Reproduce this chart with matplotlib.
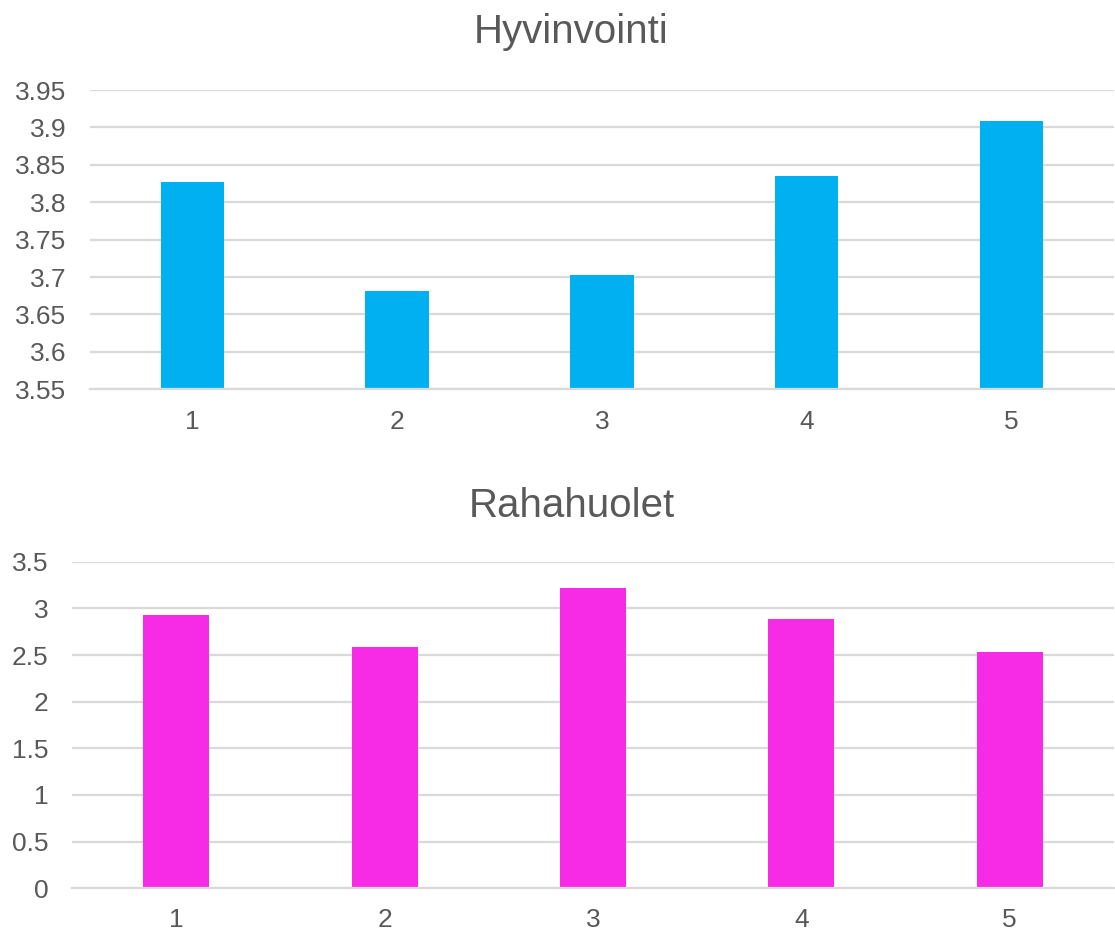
import matplotlib.pyplot as plt
import numpy as np

# Keskiarvot vastausryhmittäin
ryhmat = ["1", "2", "3", "4", "5"]
hyvinvointi = [3.827, 3.682, 3.703, 3.835, 3.908]
rahahuolet = [2.93, 2.583, 3.215, 2.883, 2.536]

plt.rcParams["font.family"] = ["Liberation Sans", "DejaVu Sans"]
teksti = "#595959"
ruudukko = "#D9D9D9"

fig = plt.figure(figsize=(11.15, 9.32), dpi=100)
ax1 = fig.add_axes([0.0807, 0.5823, 0.9183, 0.3211])
ax2 = fig.add_axes([0.0646, 0.0469, 0.9344, 0.3504])

x = np.arange(1, len(ryhmat) + 1)


def muotoile(ax, ylim, yticks, ylabels, xpad):
    ax.set_xlim(0.5, 5.5)
    ax.set_ylim(*ylim)
    ax.set_yticks(yticks)
    ax.set_yticklabels(ylabels)
    ax.set_xticks(x)
    ax.set_xticklabels(ryhmat)
    ax.grid(axis="y", color=ruudukko, linewidth=1.6)
    ax.set_axisbelow(True)
    for s in ["top", "right", "left"]:
        ax.spines[s].set_visible(False)
    ax.spines["bottom"].set_color(ruudukko)
    ax.spines["bottom"].set_linewidth(1.6)
    ax.tick_params(axis="both", length=0, labelsize=19, labelcolor=teksti)
    ax.tick_params(axis="y", pad=17)
    ax.tick_params(axis="x", pad=xpad)


ax1.bar(x, hyvinvointi, width=0.31, color="#00B0F0")
muotoile(ax1, (3.55, 3.95),
         np.arange(3.55, 3.951, 0.05),
         ["3.55", "3.6", "3.65", "3.7", "3.75", "3.8", "3.85", "3.9", "3.95"],
         xpad=15)

ax2.bar(x, rahahuolet, width=0.316, color="#F72AE6")
muotoile(ax2, (0, 3.5),
         np.arange(0, 3.51, 0.5),
         ["0", "0.5", "1", "1.5", "2", "2.5", "3", "3.5"],
         xpad=14)

# otsikot keskitetään koko kaavioalueen mukaan
fig.text(0.5126, 0.9539, "Hyvinvointi", fontsize=29, color=teksti,
         ha="center", va="baseline")
fig.text(0.5126, 0.4453, "Rahahuolet", fontsize=29, color=teksti,
         ha="center", va="baseline")

fig.savefig("out.png", dpi=100, facecolor="white")
